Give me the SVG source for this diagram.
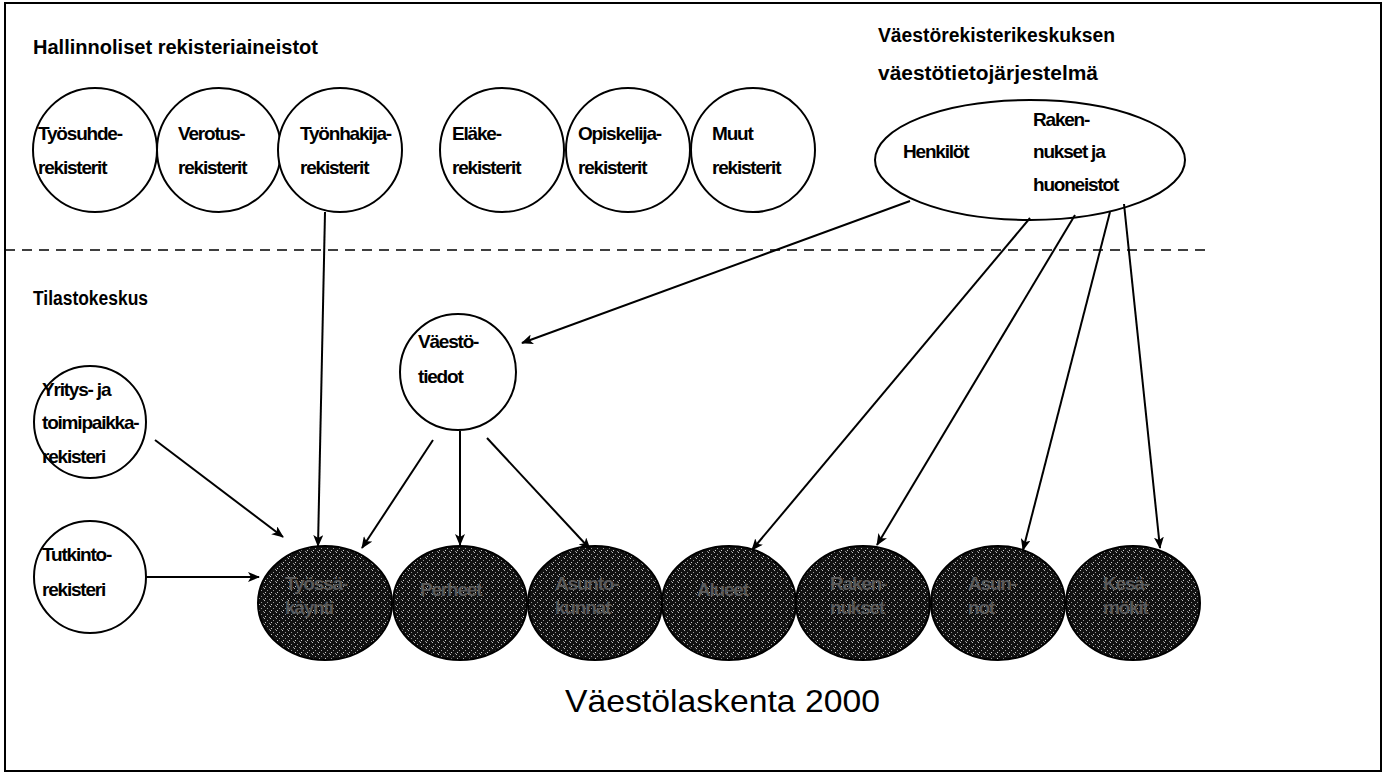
<svg xmlns="http://www.w3.org/2000/svg" width="1386" height="774" viewBox="0 0 1386 774">
<defs>
<style>
.t{font-family:"Liberation Sans",Arial,sans-serif;font-weight:bold;font-size:19px;letter-spacing:-1.2px;fill:#000}
.h{font-family:"Liberation Sans",Arial,sans-serif;font-weight:bold;font-size:20px;fill:#000}
.dt{font-family:"Liberation Sans",Arial,sans-serif;font-weight:bold;font-size:19px;letter-spacing:-1.2px;fill:#5a5a5a}
.title{font-family:"Liberation Sans",Arial,sans-serif;font-size:32px;fill:#000}
.node{fill:#fff;stroke:#000;stroke-width:2}
.dark{fill:url(#dots);stroke:#000;stroke-width:2}
.conn line{stroke:#000;stroke-width:2;marker-end:url(#ah)}
</style>
<pattern id="dots" width="6" height="6" patternUnits="userSpaceOnUse">
<rect width="6" height="6" fill="#111"/>
<rect x="0" y="0" width="1" height="1" fill="#bbb"/>
<rect x="3" y="2" width="1" height="1" fill="#999"/>
<rect x="1" y="4" width="1" height="1" fill="#ccc"/>
<rect x="5" y="5" width="1" height="1" fill="#888"/>
</pattern>
<marker id="ah" markerWidth="12" markerHeight="10" refX="11" refY="5" orient="auto" markerUnits="userSpaceOnUse">
<path d="M0,0 L12,5 L0,10 L3,5 Z" fill="#000"/>
</marker>
</defs>
<rect x="5" y="3" width="1376" height="768" fill="#fff" stroke="#000" stroke-width="2"/>
<line x1="5" y1="250" x2="1205" y2="250" stroke="#000" stroke-width="1.5" stroke-dasharray="10,7"/>
<text class="h" x="33" y="54" textLength="285" lengthAdjust="spacingAndGlyphs">Hallinnoliset rekisteriaineistot</text>
<text class="h" x="878" y="42" textLength="237" lengthAdjust="spacingAndGlyphs">Väestörekisterikeskuksen</text>
<text class="h" x="878" y="80" textLength="220" lengthAdjust="spacingAndGlyphs">väestötietojärjestelmä</text>
<text class="h" x="33" y="305" textLength="115" lengthAdjust="spacingAndGlyphs">Tilastokeskus</text>
<g id="n-tyosuhde"><circle class="node" cx="95" cy="150" r="62"/><text class="t" x="38" y="140">Työsuhde-</text><text class="t" x="38" y="174">rekisterit</text></g>
<g id="n-verotus"><circle class="node" cx="219" cy="150" r="62"/><text class="t" x="178" y="140">Verotus-</text><text class="t" x="178" y="174">rekisterit</text></g>
<g id="n-tyonhakija"><circle class="node" cx="340" cy="150" r="62"/><text class="t" x="300" y="140">Työnhakija-</text><text class="t" x="300" y="174">rekisterit</text></g>
<g id="n-elake"><circle class="node" cx="502" cy="150" r="62"/><text class="t" x="452" y="140">Eläke-</text><text class="t" x="452" y="174">rekisterit</text></g>
<g id="n-opiskelija"><circle class="node" cx="628" cy="150" r="62"/><text class="t" x="578" y="140">Opiskelija-</text><text class="t" x="578" y="174">rekisterit</text></g>
<g id="n-muut"><circle class="node" cx="753" cy="150" r="62"/><text class="t" x="712" y="140">Muut</text><text class="t" x="712" y="174">rekisterit</text></g>
<g id="n-vrk"><ellipse class="node" cx="1030" cy="160" rx="155" ry="60"/><text class="t" x="903" y="158">Henkilöt</text><text class="t" x="1033" y="126">Raken-</text><text class="t" x="1033" y="158">nukset ja</text><text class="t" x="1033" y="191">huoneistot</text></g>
<g id="n-vaestotiedot"><circle class="node" cx="458" cy="372" r="58"/><text class="t" x="418" y="348">Väestö-</text><text class="t" x="418" y="383">tiedot</text></g>
<g id="n-yritys"><circle class="node" cx="90" cy="422" r="56"/><text class="t" x="42" y="396">Yritys- ja</text><text class="t" x="42" y="429">toimipaikka-</text><text class="t" x="42" y="463">rekisteri</text></g>
<g id="n-tutkinto"><circle class="node" cx="90" cy="577" r="56"/><text class="t" x="42" y="561">Tutkinto-</text><text class="t" x="42" y="596">rekisteri</text></g>
<g id="d-tyossakaynti"><ellipse class="dark" cx="325" cy="603" rx="67" ry="57"/><text class="dt" x="285" y="590">Työssä-</text><text class="dt" x="285" y="614">käynti</text></g>
<g id="d-perheet"><ellipse class="dark" cx="460" cy="603" rx="67" ry="57"/><text class="dt" x="420" y="596">Perheet</text></g>
<g id="d-asuntokunnat"><ellipse class="dark" cx="595" cy="603" rx="67" ry="57"/><text class="dt" x="555" y="590">Asunto-</text><text class="dt" x="555" y="614">kunnat</text></g>
<g id="d-alueet"><ellipse class="dark" cx="729" cy="603" rx="67" ry="57"/><text class="dt" x="697" y="596">Alueet</text></g>
<g id="d-rakennukset"><ellipse class="dark" cx="863" cy="603" rx="67" ry="57"/><text class="dt" x="830" y="590">Raken-</text><text class="dt" x="830" y="614">nukset</text></g>
<g id="d-asunnot"><ellipse class="dark" cx="998" cy="603" rx="67" ry="57"/><text class="dt" x="968" y="590">Asun-</text><text class="dt" x="968" y="614">not</text></g>
<g id="d-kesamokit"><ellipse class="dark" cx="1133" cy="603" rx="67" ry="57"/><text class="dt" x="1103" y="590">Kesä-</text><text class="dt" x="1103" y="614">mökit</text></g>
<g id="connectors" class="conn">
<line x1="325" y1="212" x2="318" y2="546"/>
<line x1="910" y1="201" x2="522" y2="343"/>
<line x1="433" y1="440" x2="362" y2="548"/>
<line x1="460" y1="431" x2="460" y2="545"/>
<line x1="487" y1="438" x2="590" y2="549"/>
<line x1="155" y1="440" x2="283" y2="537"/>
<line x1="146" y1="577" x2="259" y2="577"/>
<line x1="1030" y1="218" x2="752" y2="550"/>
<line x1="1075" y1="215" x2="877" y2="545"/>
<line x1="1110" y1="212" x2="1023" y2="550"/>
<line x1="1124" y1="204" x2="1160" y2="548"/>
</g>
<text class="title" x="565" y="712" textLength="315" lengthAdjust="spacingAndGlyphs">Väestölaskenta 2000</text>
</svg>
